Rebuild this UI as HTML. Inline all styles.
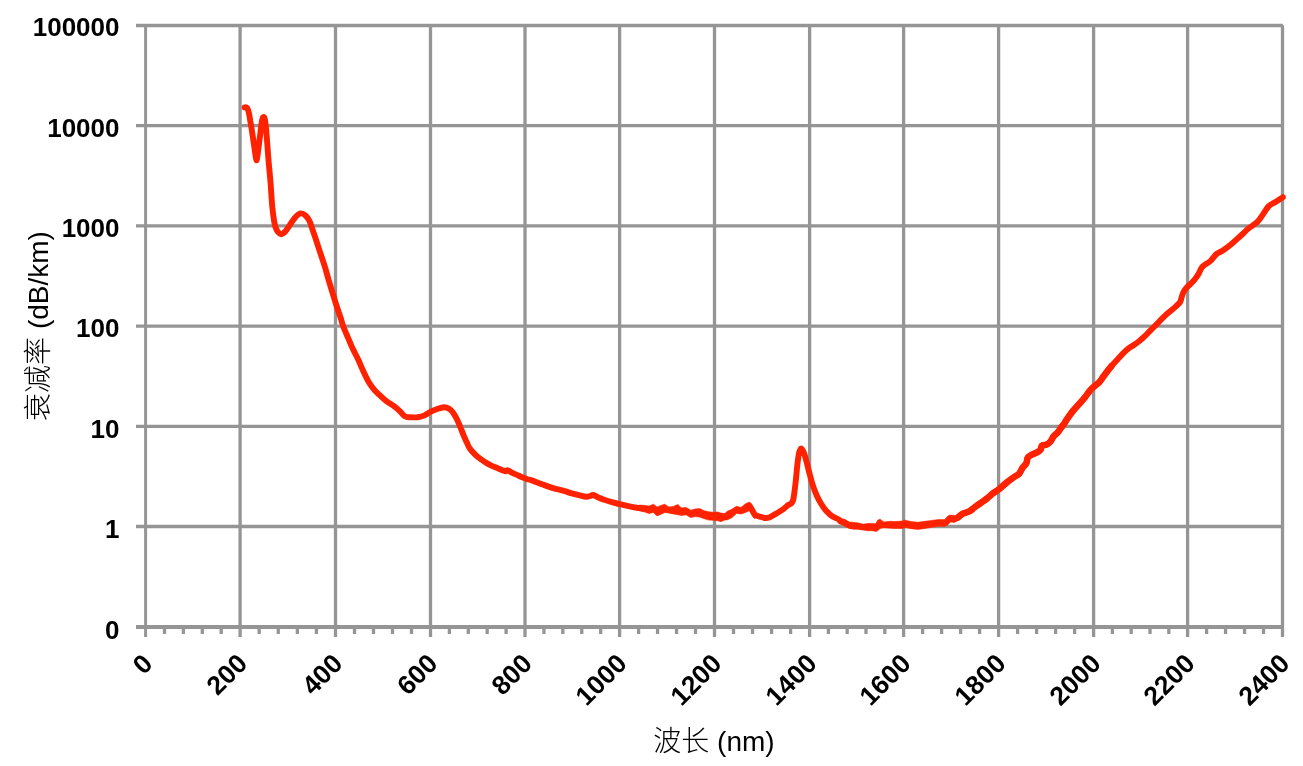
<!DOCTYPE html>
<html><head><meta charset="utf-8"><style>
html,body{margin:0;padding:0;background:#fff;width:1303px;height:766px;overflow:hidden}
svg{display:block}
.lab{font-family:"Liberation Sans",sans-serif;font-weight:bold;font-size:26px;fill:#000}
.tit{font-family:"Liberation Sans","Noto Sans CJK SC",sans-serif;font-size:28px;fill:#000}
</style></head><body>
<svg width="1303" height="766" viewBox="0 0 1303 766">
<rect width="1303" height="766" fill="#fff"/>
<line x1="136" y1="25.50" x2="1282.80" y2="25.50" stroke="#959595" stroke-width="3.3"/>
<line x1="136" y1="125.70" x2="1282.80" y2="125.70" stroke="#959595" stroke-width="3.3"/>
<line x1="136" y1="225.90" x2="1282.80" y2="225.90" stroke="#959595" stroke-width="3.3"/>
<line x1="136" y1="326.10" x2="1282.80" y2="326.10" stroke="#959595" stroke-width="3.3"/>
<line x1="136" y1="426.30" x2="1282.80" y2="426.30" stroke="#959595" stroke-width="3.3"/>
<line x1="136" y1="526.50" x2="1282.80" y2="526.50" stroke="#959595" stroke-width="3.3"/>
<line x1="145.60" y1="25.20" x2="145.60" y2="637" stroke="#959595" stroke-width="3.0"/>
<line x1="240.10" y1="25.20" x2="240.10" y2="637" stroke="#959595" stroke-width="3.3"/>
<line x1="335.50" y1="25.20" x2="335.50" y2="637" stroke="#959595" stroke-width="3.3"/>
<line x1="430.50" y1="25.20" x2="430.50" y2="637" stroke="#959595" stroke-width="3.3"/>
<line x1="525.00" y1="25.20" x2="525.00" y2="637" stroke="#959595" stroke-width="3.3"/>
<line x1="619.60" y1="25.20" x2="619.60" y2="637" stroke="#959595" stroke-width="3.3"/>
<line x1="714.50" y1="25.20" x2="714.50" y2="637" stroke="#959595" stroke-width="3.3"/>
<line x1="809.60" y1="25.20" x2="809.60" y2="637" stroke="#959595" stroke-width="3.3"/>
<line x1="903.60" y1="25.20" x2="903.60" y2="637" stroke="#959595" stroke-width="3.3"/>
<line x1="998.60" y1="25.20" x2="998.60" y2="637" stroke="#959595" stroke-width="3.3"/>
<line x1="1093.60" y1="25.20" x2="1093.60" y2="637" stroke="#959595" stroke-width="3.3"/>
<line x1="1187.60" y1="25.20" x2="1187.60" y2="637" stroke="#959595" stroke-width="3.3"/>
<line x1="1282.50" y1="25.20" x2="1282.50" y2="637" stroke="#959595" stroke-width="3.3"/>
<line x1="164.50" y1="627" x2="164.50" y2="634" stroke="#959595" stroke-width="3.3"/>
<line x1="183.40" y1="627" x2="183.40" y2="634" stroke="#959595" stroke-width="3.3"/>
<line x1="202.30" y1="627" x2="202.30" y2="634" stroke="#959595" stroke-width="3.3"/>
<line x1="221.20" y1="627" x2="221.20" y2="634" stroke="#959595" stroke-width="3.3"/>
<line x1="259.18" y1="627" x2="259.18" y2="634" stroke="#959595" stroke-width="3.3"/>
<line x1="278.26" y1="627" x2="278.26" y2="634" stroke="#959595" stroke-width="3.3"/>
<line x1="297.34" y1="627" x2="297.34" y2="634" stroke="#959595" stroke-width="3.3"/>
<line x1="316.42" y1="627" x2="316.42" y2="634" stroke="#959595" stroke-width="3.3"/>
<line x1="354.50" y1="627" x2="354.50" y2="634" stroke="#959595" stroke-width="3.3"/>
<line x1="373.50" y1="627" x2="373.50" y2="634" stroke="#959595" stroke-width="3.3"/>
<line x1="392.50" y1="627" x2="392.50" y2="634" stroke="#959595" stroke-width="3.3"/>
<line x1="411.50" y1="627" x2="411.50" y2="634" stroke="#959595" stroke-width="3.3"/>
<line x1="449.40" y1="627" x2="449.40" y2="634" stroke="#959595" stroke-width="3.3"/>
<line x1="468.30" y1="627" x2="468.30" y2="634" stroke="#959595" stroke-width="3.3"/>
<line x1="487.20" y1="627" x2="487.20" y2="634" stroke="#959595" stroke-width="3.3"/>
<line x1="506.10" y1="627" x2="506.10" y2="634" stroke="#959595" stroke-width="3.3"/>
<line x1="543.92" y1="627" x2="543.92" y2="634" stroke="#959595" stroke-width="3.3"/>
<line x1="562.84" y1="627" x2="562.84" y2="634" stroke="#959595" stroke-width="3.3"/>
<line x1="581.76" y1="627" x2="581.76" y2="634" stroke="#959595" stroke-width="3.3"/>
<line x1="600.68" y1="627" x2="600.68" y2="634" stroke="#959595" stroke-width="3.3"/>
<line x1="638.58" y1="627" x2="638.58" y2="634" stroke="#959595" stroke-width="3.3"/>
<line x1="657.56" y1="627" x2="657.56" y2="634" stroke="#959595" stroke-width="3.3"/>
<line x1="676.54" y1="627" x2="676.54" y2="634" stroke="#959595" stroke-width="3.3"/>
<line x1="695.52" y1="627" x2="695.52" y2="634" stroke="#959595" stroke-width="3.3"/>
<line x1="733.52" y1="627" x2="733.52" y2="634" stroke="#959595" stroke-width="3.3"/>
<line x1="752.54" y1="627" x2="752.54" y2="634" stroke="#959595" stroke-width="3.3"/>
<line x1="771.56" y1="627" x2="771.56" y2="634" stroke="#959595" stroke-width="3.3"/>
<line x1="790.58" y1="627" x2="790.58" y2="634" stroke="#959595" stroke-width="3.3"/>
<line x1="828.40" y1="627" x2="828.40" y2="634" stroke="#959595" stroke-width="3.3"/>
<line x1="847.20" y1="627" x2="847.20" y2="634" stroke="#959595" stroke-width="3.3"/>
<line x1="866.00" y1="627" x2="866.00" y2="634" stroke="#959595" stroke-width="3.3"/>
<line x1="884.80" y1="627" x2="884.80" y2="634" stroke="#959595" stroke-width="3.3"/>
<line x1="922.60" y1="627" x2="922.60" y2="634" stroke="#959595" stroke-width="3.3"/>
<line x1="941.60" y1="627" x2="941.60" y2="634" stroke="#959595" stroke-width="3.3"/>
<line x1="960.60" y1="627" x2="960.60" y2="634" stroke="#959595" stroke-width="3.3"/>
<line x1="979.60" y1="627" x2="979.60" y2="634" stroke="#959595" stroke-width="3.3"/>
<line x1="1017.60" y1="627" x2="1017.60" y2="634" stroke="#959595" stroke-width="3.3"/>
<line x1="1036.60" y1="627" x2="1036.60" y2="634" stroke="#959595" stroke-width="3.3"/>
<line x1="1055.60" y1="627" x2="1055.60" y2="634" stroke="#959595" stroke-width="3.3"/>
<line x1="1074.60" y1="627" x2="1074.60" y2="634" stroke="#959595" stroke-width="3.3"/>
<line x1="1112.40" y1="627" x2="1112.40" y2="634" stroke="#959595" stroke-width="3.3"/>
<line x1="1131.20" y1="627" x2="1131.20" y2="634" stroke="#959595" stroke-width="3.3"/>
<line x1="1150.00" y1="627" x2="1150.00" y2="634" stroke="#959595" stroke-width="3.3"/>
<line x1="1168.80" y1="627" x2="1168.80" y2="634" stroke="#959595" stroke-width="3.3"/>
<line x1="1206.58" y1="627" x2="1206.58" y2="634" stroke="#959595" stroke-width="3.3"/>
<line x1="1225.56" y1="627" x2="1225.56" y2="634" stroke="#959595" stroke-width="3.3"/>
<line x1="1244.54" y1="627" x2="1244.54" y2="634" stroke="#959595" stroke-width="3.3"/>
<line x1="1263.52" y1="627" x2="1263.52" y2="634" stroke="#959595" stroke-width="3.3"/>
<line x1="136" y1="627" x2="1284.00" y2="627" stroke="#959595" stroke-width="4"/>
<g class="lab">
<text x="119.5" y="36.00" text-anchor="end">100000</text>
<text x="119.5" y="137.00" text-anchor="end">10000</text>
<text x="119.5" y="236.80" text-anchor="end">1000</text>
<text x="119.5" y="337.00" text-anchor="end">100</text>
<text x="119.5" y="438.00" text-anchor="end">10</text>
<text x="119.5" y="538.20" text-anchor="end">1</text>
<text x="119.5" y="638.70" text-anchor="end">0</text>
<text transform="translate(154.30,665.2) rotate(-45)" text-anchor="end" font-size="26.5">0</text>
<text transform="translate(248.80,665.2) rotate(-45)" text-anchor="end" font-size="26.5">200</text>
<text transform="translate(344.20,665.2) rotate(-45)" text-anchor="end" font-size="26.5">400</text>
<text transform="translate(439.20,665.2) rotate(-45)" text-anchor="end" font-size="26.5">600</text>
<text transform="translate(533.70,665.2) rotate(-45)" text-anchor="end" font-size="26.5">800</text>
<text transform="translate(628.30,665.2) rotate(-45)" text-anchor="end" font-size="26.5">1000</text>
<text transform="translate(723.20,665.2) rotate(-45)" text-anchor="end" font-size="26.5">1200</text>
<text transform="translate(818.30,665.2) rotate(-45)" text-anchor="end" font-size="26.5">1400</text>
<text transform="translate(912.30,665.2) rotate(-45)" text-anchor="end" font-size="26.5">1600</text>
<text transform="translate(1007.30,665.2) rotate(-45)" text-anchor="end" font-size="26.5">1800</text>
<text transform="translate(1102.30,665.2) rotate(-45)" text-anchor="end" font-size="26.5">2000</text>
<text transform="translate(1196.30,665.2) rotate(-45)" text-anchor="end" font-size="26.5">2200</text>
<text transform="translate(1291.20,665.2) rotate(-45)" text-anchor="end" font-size="26.5">2400</text>
</g>
<text class="tit" x="714" y="751" text-anchor="middle"><tspan font-family="Noto Sans CJK SC" font-weight="300">波长</tspan> (nm)</text>
<text class="tit" transform="translate(48,326) rotate(-90)" text-anchor="middle"><tspan font-family="Noto Sans CJK SC" font-weight="300">衰减率</tspan> (dB/km)</text>
<path d="M244.6,107.4 C244.9,107.4 245.8,107.1 246.3,107.4 C246.8,107.7 247.3,108.1 247.8,109.2 C248.3,110.3 248.7,112.0 249.1,114.0 C249.5,116.0 249.9,118.3 250.3,121.0 C250.8,123.7 251.3,126.8 251.8,130.0 C252.3,133.2 252.8,136.8 253.3,140.0 C253.8,143.2 254.2,146.3 254.6,149.0 C255.0,151.7 255.3,154.1 255.6,156.0 C255.9,157.9 256.1,160.1 256.4,160.3 C256.7,160.5 256.9,159.1 257.3,157.0 C257.7,154.9 258.1,150.8 258.5,148.0 C258.9,145.2 259.2,142.5 259.5,140.0 C259.8,137.5 260.1,135.7 260.4,133.0 C260.7,130.3 261.1,126.4 261.5,124.0 C261.9,121.6 262.2,119.7 262.6,118.5 C263.0,117.3 263.3,116.8 263.7,117.0 C264.1,117.2 264.5,117.7 264.9,119.5 C265.3,121.3 265.6,124.6 266.0,128.0 C266.4,131.4 266.6,134.7 267.0,140.0 C267.4,145.3 267.9,152.8 268.5,160.0 C269.1,167.2 270.0,175.7 270.6,183.5 C271.2,191.3 271.7,200.8 272.3,207.0 C272.9,213.2 273.6,217.7 274.1,221.0 C274.6,224.3 274.9,225.2 275.5,227.0 C276.1,228.8 276.7,230.4 277.6,231.6 C278.5,232.8 279.9,234.1 281.1,234.2 C282.3,234.3 283.3,233.6 284.7,232.2 C286.1,230.8 287.6,228.1 289.4,225.7 C291.1,223.2 293.3,219.6 295.2,217.5 C297.1,215.4 298.8,213.7 300.5,213.4 C302.2,213.1 304.0,214.2 305.5,215.5 C307.0,216.8 308.2,218.4 309.5,221.0 C310.8,223.6 311.9,228.0 313.0,231.0 C314.1,234.0 314.6,235.4 315.8,239.1 C317.0,242.8 318.9,248.8 320.4,253.2 C321.9,257.6 323.2,261.4 324.6,265.8 C326.0,270.2 327.2,275.2 328.6,279.9 C330.0,284.6 331.5,289.6 332.9,294.0 C334.3,298.4 335.5,302.5 336.8,306.5 C338.1,310.5 339.6,314.6 340.7,318.0 C341.8,321.4 342.1,323.3 343.3,326.6 C344.5,329.9 346.4,333.9 348.0,337.6 C349.6,341.3 351.0,344.9 352.7,348.6 C354.4,352.3 356.4,355.7 358.2,359.6 C360.0,363.5 362.0,368.5 363.7,372.1 C365.4,375.8 366.7,378.6 368.4,381.5 C370.1,384.4 371.9,386.9 373.9,389.3 C375.9,391.7 378.1,393.6 380.2,395.6 C382.3,397.6 384.0,399.3 386.4,401.1 C388.8,402.9 392.1,404.8 394.3,406.4 C396.5,408.0 398.0,409.4 399.5,410.8 C401.0,412.2 402.2,414.0 403.3,415.0 C404.4,416.0 404.8,416.4 406.0,416.8 C407.2,417.2 408.4,417.2 410.4,417.3 C412.4,417.4 415.5,417.5 417.8,417.2 C420.1,416.9 421.9,416.5 424.0,415.6 C426.1,414.7 428.2,412.9 430.3,411.9 C432.4,410.8 434.3,410.1 436.6,409.3 C438.9,408.5 441.8,407.3 443.9,407.2 C446.0,407.1 447.5,407.8 449.1,408.8 C450.7,409.8 452.0,411.2 453.3,413.0 C454.6,414.8 455.8,417.0 456.9,419.3 C458.0,421.6 459.1,424.1 460.1,426.6 C461.2,429.1 462.1,431.7 463.2,434.4 C464.3,437.1 465.8,440.2 466.9,442.6 C468.0,445.0 468.6,446.8 470.0,448.8 C471.4,450.8 473.5,453.0 475.2,454.7 C476.9,456.4 478.6,457.6 480.4,458.9 C482.1,460.2 483.9,461.3 485.7,462.4 C487.4,463.5 489.2,464.5 490.9,465.4 C492.6,466.3 494.4,466.9 496.1,467.6 C497.8,468.3 499.7,469.2 501.3,469.8 C502.9,470.4 504.5,471.1 505.5,471.2 C506.5,471.3 506.8,470.3 507.5,470.3 C508.2,470.3 509.3,470.8 510.0,471.2 C510.7,471.6 510.6,472.1 511.8,472.7 C513.0,473.3 515.3,474.0 517.0,474.8 C518.7,475.6 520.5,476.6 522.2,477.3 C523.9,478.0 525.8,478.7 527.4,479.2 C529.0,479.7 529.8,479.7 531.9,480.4 C534.0,481.1 537.2,482.4 539.9,483.4 C542.6,484.4 545.2,485.5 547.9,486.4 C550.5,487.3 553.1,488.1 555.8,488.9 C558.4,489.6 561.1,490.1 563.8,490.9 C566.5,491.6 569.1,492.6 571.8,493.4 C574.5,494.1 577.3,494.8 579.8,495.4 C582.2,496.0 584.8,496.7 586.5,496.8 C588.2,496.9 588.9,496.3 590.0,496.0 C591.1,495.7 591.8,494.8 593.2,495.0 C594.6,495.2 596.5,496.7 598.3,497.5 C600.1,498.3 601.9,499.0 604.2,499.8 C606.5,500.6 609.4,501.5 612.0,502.2 C614.6,502.9 616.7,503.5 619.6,504.2 C622.5,504.9 626.3,505.7 629.4,506.3 C632.5,506.9 636.4,507.7 638.0,508.0 C639.6,508.3 638.1,507.8 639.2,508.0 C640.3,508.1 643.0,508.4 644.6,508.7 C646.2,509.0 647.4,509.9 648.9,509.8 C650.4,509.7 652.0,508.1 653.4,508.4 C654.8,508.6 655.8,511.2 657.0,511.5 C658.2,511.8 659.4,510.4 660.7,509.9 C662.0,509.4 663.6,508.3 664.9,508.4 C666.2,508.4 667.2,509.7 668.6,510.0 C670.0,510.3 671.7,510.3 673.2,510.2 C674.7,510.1 676.4,509.3 677.8,509.6 C679.2,509.8 680.1,511.4 681.5,511.7 C682.9,511.9 684.5,510.7 686.0,511.1 C687.5,511.5 689.2,513.6 690.7,513.9 C692.2,514.2 693.5,513.0 695.0,512.8 C696.5,512.6 698.1,512.5 699.6,512.9 C701.1,513.2 702.7,514.2 704.2,514.7 C705.7,515.2 707.3,515.7 708.8,516.0 C710.3,516.2 711.9,516.2 713.4,516.3 C714.9,516.4 716.8,516.2 718.0,516.4 C719.2,516.6 719.6,517.3 720.8,517.4 C721.9,517.4 723.8,517.0 724.9,516.8 C726.0,516.5 726.1,516.1 727.2,515.6 C728.4,515.1 730.3,514.5 731.8,513.5 C733.3,512.6 734.9,510.3 736.4,509.9 C737.9,509.4 739.5,510.9 741.0,510.6 C742.5,510.4 744.2,508.8 745.6,508.1 C747.0,507.4 748.3,506.2 749.3,506.4 C750.3,506.5 750.7,507.6 751.6,509.0 C752.5,510.4 754.2,514.0 754.9,515.0 C755.6,516.1 755.0,515.0 756.0,515.3 C757.0,515.6 759.2,516.4 760.7,516.9 C762.2,517.4 763.8,518.0 765.3,518.0 C766.8,518.0 768.4,517.8 769.9,517.2 C771.4,516.6 773.0,515.5 774.5,514.6 C776.0,513.7 777.6,512.9 779.1,511.9 C780.6,510.9 782.2,509.9 783.7,508.8 C785.2,507.7 787.0,505.9 788.3,505.0 C789.6,504.1 790.5,504.3 791.3,503.4 C792.1,502.5 792.7,502.1 793.3,499.5 C793.9,496.9 794.5,491.5 795.0,487.5 C795.5,483.5 795.9,479.8 796.3,475.7 C796.7,471.6 797.1,466.6 797.6,462.7 C798.1,458.8 798.6,454.6 799.3,452.2 C799.9,449.8 800.7,448.3 801.5,448.5 C802.3,448.7 803.3,451.1 804.2,453.5 C805.1,455.9 805.9,459.4 806.8,462.7 C807.7,466.0 808.4,469.4 809.4,473.1 C810.4,476.8 811.5,481.2 812.7,484.9 C813.9,488.6 815.2,492.1 816.6,495.3 C818.0,498.5 819.5,501.2 821.1,503.8 C822.7,506.4 824.5,508.9 826.4,511.0 C828.2,513.1 830.1,514.8 832.2,516.2 C834.3,517.6 837.5,518.7 838.8,519.5 C840.1,520.3 839.0,520.6 840.0,521.1 C841.0,521.7 843.1,522.0 844.6,522.7 C846.1,523.3 847.7,524.7 849.2,525.2 C850.7,525.7 852.3,525.7 853.8,525.8 C855.3,526.0 856.9,525.9 858.4,526.1 C859.9,526.3 861.5,527.0 863.0,527.1 C864.5,527.3 866.1,527.0 867.6,527.0 C869.1,527.0 870.8,527.1 872.2,527.2 C873.6,527.2 875.0,527.9 875.9,527.6 C876.8,527.3 877.1,526.0 877.8,525.4 C878.5,524.8 879.1,523.9 880.1,523.8 C881.1,523.7 882.0,524.7 883.7,524.9 C885.5,525.0 888.7,524.7 890.6,524.8 C892.5,524.8 893.1,525.0 895.0,525.0 C896.9,525.1 900.2,525.0 901.9,524.8 C903.6,524.6 903.6,523.8 905.1,523.9 C906.6,524.0 909.0,524.8 911.1,525.2 C913.2,525.5 915.7,525.9 918.0,525.8 C920.3,525.8 922.6,525.2 924.9,524.9 C927.2,524.6 929.5,524.2 931.8,523.8 C934.1,523.5 936.6,523.0 938.7,522.9 C940.9,522.7 943.2,523.5 944.7,523.0 C946.2,522.6 947.0,521.1 947.9,520.4 C948.8,519.6 949.0,518.8 950.2,518.5 C951.4,518.3 953.6,519.1 954.9,519.0 C956.2,518.8 956.6,518.4 957.9,517.6 C959.1,516.8 960.4,515.0 962.4,513.9 C964.4,512.8 967.7,512.3 969.7,511.2 C971.7,510.1 972.5,508.9 974.3,507.5 C976.1,506.1 978.6,504.5 980.7,503.0 C982.8,501.5 985.0,500.1 987.1,498.4 C989.2,496.7 991.5,494.4 993.5,492.9 C995.5,491.4 996.9,491.0 999.0,489.3 C1001.1,487.6 1003.9,484.9 1006.3,482.9 C1008.7,480.9 1011.5,478.9 1013.6,477.4 C1015.7,475.9 1017.6,475.3 1019.1,473.7 C1020.6,472.1 1021.2,469.7 1022.4,468.0 C1023.6,466.3 1025.4,465.1 1026.3,463.3 C1027.2,461.6 1026.9,458.9 1027.8,457.5 C1028.7,456.1 1030.3,455.5 1031.8,454.7 C1033.2,453.9 1035.1,453.5 1036.5,452.7 C1037.9,451.9 1039.5,451.1 1040.4,450.0 C1041.3,448.9 1040.9,446.7 1041.9,445.8 C1042.9,444.9 1045.1,445.2 1046.6,444.5 C1048.0,443.8 1049.4,442.7 1050.6,441.3 C1051.8,439.9 1052.5,437.6 1053.7,436.2 C1054.9,434.8 1056.4,434.1 1057.6,432.7 C1058.8,431.3 1059.8,429.4 1060.8,428.0 C1061.8,426.6 1062.9,425.6 1063.9,424.1 C1064.9,422.6 1065.4,421.5 1067.0,419.2 C1068.6,416.9 1071.3,413.0 1073.6,410.2 C1075.9,407.4 1078.7,404.5 1080.7,402.3 C1082.7,400.1 1084.0,398.6 1085.4,396.8 C1086.8,395.0 1087.9,393.0 1089.3,391.3 C1090.7,389.6 1092.3,388.2 1094.0,386.6 C1095.7,385.0 1097.9,383.6 1099.5,381.9 C1101.1,380.2 1102.0,378.4 1103.4,376.5 C1104.8,374.6 1106.8,371.9 1108.1,370.2 C1109.4,368.5 1109.9,367.9 1111.3,366.3 C1112.7,364.7 1114.5,362.7 1116.5,360.5 C1118.5,358.3 1121.0,355.4 1123.1,353.3 C1125.2,351.2 1127.1,349.5 1128.9,348.1 C1130.8,346.7 1132.6,345.9 1134.2,344.8 C1135.8,343.7 1137.1,342.8 1138.7,341.5 C1140.3,340.2 1142.2,338.6 1143.9,337.0 C1145.7,335.4 1147.5,333.4 1149.2,331.7 C1151.0,329.9 1152.9,328.0 1154.4,326.5 C1155.9,325.0 1156.9,324.1 1158.3,322.6 C1159.7,321.2 1160.9,319.7 1162.8,317.8 C1164.7,315.9 1167.8,313.3 1169.9,311.5 C1172.0,309.7 1173.7,308.4 1175.4,306.8 C1177.1,305.2 1179.1,303.7 1180.1,302.1 C1181.1,300.5 1181.1,299.0 1181.6,297.4 C1182.1,295.8 1182.4,294.3 1183.2,292.7 C1184.0,291.1 1185.1,289.4 1186.3,288.0 C1187.5,286.6 1189.0,285.4 1190.3,284.1 C1191.6,282.8 1192.9,281.8 1194.2,280.2 C1195.5,278.6 1196.7,276.9 1198.1,274.7 C1199.5,272.5 1200.4,269.1 1202.4,266.8 C1204.4,264.5 1207.9,263.2 1210.3,261.1 C1212.7,259.0 1214.5,255.7 1216.7,253.9 C1218.9,252.1 1220.7,252.0 1223.2,250.3 C1225.7,248.6 1228.9,246.2 1231.8,243.8 C1234.7,241.4 1237.5,238.6 1240.4,236.0 C1243.3,233.4 1246.1,230.5 1249.0,228.1 C1251.9,225.7 1255.2,224.0 1257.6,221.6 C1260.0,219.2 1261.5,216.3 1263.4,213.7 C1265.3,211.1 1266.9,207.8 1269.1,205.8 C1271.2,203.8 1274.0,202.9 1276.3,201.5 C1278.6,200.1 1281.7,197.9 1282.8,197.2" fill="none" stroke="#ff2200" stroke-width="5.9" stroke-linejoin="round" stroke-linecap="round"/>
<path d="M957.9,517.6 C958.6,517.0 960.4,515.0 962.4,513.9 C964.4,512.8 967.7,512.3 969.7,511.2 C971.7,510.1 972.5,508.9 974.3,507.5 C976.1,506.1 978.6,504.5 980.7,503.0 C982.8,501.5 985.0,500.1 987.1,498.4 C989.2,496.7 991.5,494.4 993.5,492.9 C995.5,491.4 996.9,491.0 999.0,489.3 C1001.1,487.6 1003.9,484.9 1006.3,482.9 C1008.7,480.9 1011.5,478.9 1013.6,477.4 C1015.7,475.9 1017.6,475.3 1019.1,473.7 C1020.6,472.1 1021.2,469.7 1022.4,468.0 C1023.6,466.3 1025.4,465.1 1026.3,463.3 C1027.2,461.6 1026.9,458.9 1027.8,457.5 C1028.7,456.1 1030.3,455.5 1031.8,454.7 C1033.2,453.9 1035.1,453.5 1036.5,452.7 C1037.9,451.9 1039.5,451.1 1040.4,450.0 C1041.3,448.9 1040.9,446.7 1041.9,445.8 C1042.9,444.9 1045.1,445.2 1046.6,444.5 C1048.0,443.8 1049.4,442.7 1050.6,441.3 C1051.8,439.9 1052.5,437.6 1053.7,436.2 C1054.9,434.8 1056.4,434.1 1057.6,432.7 C1058.8,431.3 1059.8,429.4 1060.8,428.0 C1061.8,426.6 1062.9,425.6 1063.9,424.1 C1064.9,422.6 1065.4,421.5 1067.0,419.2 C1068.6,416.9 1071.3,413.0 1073.6,410.2 C1075.9,407.4 1078.7,404.5 1080.7,402.3 C1082.7,400.1 1084.0,398.6 1085.4,396.8 C1086.8,395.0 1087.9,393.0 1089.3,391.3 C1090.7,389.6 1092.3,388.2 1094.0,386.6 C1095.7,385.0 1097.9,383.6 1099.5,381.9 C1101.1,380.2 1102.0,378.4 1103.4,376.5 C1104.8,374.6 1106.8,371.9 1108.1,370.2 C1109.4,368.5 1110.8,366.9 1111.3,366.3" fill="none" stroke="#ff2200" stroke-width="6.6" stroke-linejoin="round" stroke-linecap="round"/>
<polygon points="639.2,505.1 644.6,505.4 648.9,506.1 653.4,504.2 657.0,507.0 660.7,505.4 664.9,504.2 668.6,507.0 673.2,506.5 677.8,504.4 681.5,507.9 686.0,507.4 690.7,510.2 695.0,509.0 699.6,508.6 704.2,510.7 708.8,511.8 713.4,512.3 718.0,512.0 720.8,513.0 724.9,513.6 727.2,511.3 731.8,509.3 736.4,506.3 741.0,507.4 745.6,503.7 749.3,502.1 751.6,503.7 754.9,511.6 754.9,518.5 751.6,514.3 749.3,510.7 745.6,512.5 741.0,513.9 736.4,513.4 731.8,517.8 727.2,519.9 724.9,519.9 720.8,521.7 718.0,520.8 713.4,520.3 708.8,520.1 704.2,518.7 699.6,517.1 695.0,516.6 690.7,517.6 686.0,514.8 681.5,515.5 677.8,514.8 673.2,513.9 668.6,513.0 664.9,512.5 660.7,514.4 657.0,516.0 653.4,512.5 648.9,513.5 644.6,512.0 639.2,510.8" fill="#ff2200" stroke="#ff2200" stroke-width="0.6" stroke-linejoin="round"/>
<polygon points="840.0,518.5 844.6,519.2 849.2,522.0 853.8,522.4 858.4,522.9 863.0,524.3 867.6,523.4 872.2,523.6 875.9,523.8 877.8,520.1 880.1,519.2 883.7,522.0 890.6,521.3 895.0,521.6 901.9,521.1 905.1,520.2 911.1,521.6 918.0,522.3 924.9,521.3 931.8,520.4 938.7,519.5 944.7,519.7 947.9,516.0 950.2,515.1 954.9,515.4 954.9,522.5 950.2,522.0 947.9,524.8 944.7,526.4 938.7,526.2 931.8,527.3 924.9,528.5 918.0,529.4 911.1,528.7 905.1,527.6 901.9,528.5 895.0,528.5 890.6,528.2 883.7,527.7 880.1,528.4 877.8,530.7 875.9,531.4 872.2,530.7 867.6,530.7 863.0,530.0 858.4,529.3 853.8,529.3 849.2,528.4 844.6,526.1 840.0,523.8" fill="#ff2200" stroke="#ff2200" stroke-width="0.6" stroke-linejoin="round"/>
</svg>
</body></html>
